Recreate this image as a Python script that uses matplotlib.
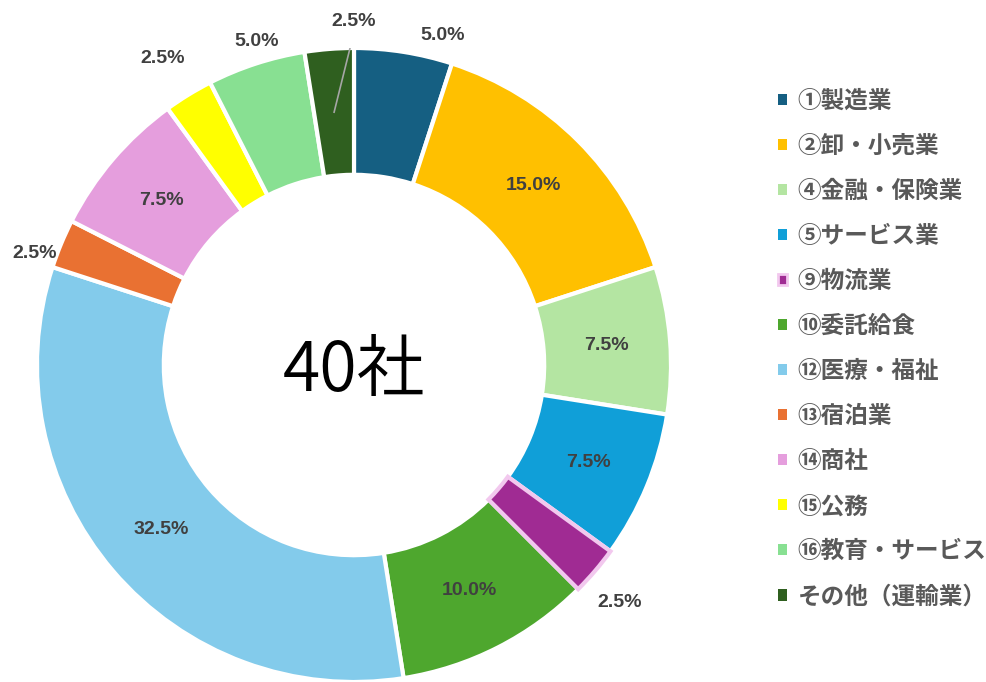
import numpy as np
import matplotlib.pyplot as plt
from matplotlib.patches import Patch

plt.rcParams['font.family'] = ['Noto Sans CJK JP', 'DejaVu Sans']

# data
categories = ['①製造業', '②卸・小売業', '④金融・保険業', '⑤サービス業', '⑨物流業',
              '⑩委託給食', '⑫医療・福祉', '⑬宿泊業', '⑭商社', '⑮公務',
              '⑯教育・サービス', 'その他（運輸業）']
counts = [2, 6, 3, 3, 1, 4, 13, 1, 3, 1, 2, 1]
colors = ['#155F82', '#FFC000', '#B4E5A2', '#109FD8', '#A02B93', '#4EA72E',
          '#83CBEB', '#E97132', '#E59EDD', '#FFFF00', '#88E092', '#2F5F1F']
total = sum(counts)

fig = plt.figure(figsize=(9.87, 6.82), dpi=100)
W, H = 987, 682
cx, cy, R = 354, 365, 317
ax = fig.add_axes([(cx - R) / W, (H - cy - R) / H, 2 * R / W, 2 * R / H])

wedges, _ = ax.pie(counts, colors=colors, startangle=90, counterclock=False,
                   radius=1.0, wedgeprops=dict(width=0.4, edgecolor='white', linewidth=3))
wedges[4].set_edgecolor('#F2C8EE')
wedges[4].set_zorder(3)
ax.set_xlim(-1, 1)
ax.set_ylim(-1, 1)
ax.set_aspect('equal')
ax.axis('off')

# label placement: inside for big slices, outside (angle, radius) for small ones
outside = {0: (75, 1.075), 4: (-41.8, 1.125), 7: (160.7, 1.066), 9: (122, 1.14),
           10: (106.7, 1.067), 11: (90, 1.085)}
lab_style = dict(fontsize=14, fontweight='bold', color='#404040',
                 family=['Liberation Sans'], ha='center', va='center')
for i, w in enumerate(wedges):
    pct = counts[i] / total * 100
    mid = np.deg2rad((w.theta1 + w.theta2) / 2)
    if i in outside:
        a, r = outside[i]
        a = np.deg2rad(a)
        ax.text(r * np.cos(a), r * np.sin(a), f'{pct:.1f}%', **lab_style)
    else:
        ax.text(0.8 * np.cos(mid), 0.8 * np.sin(mid), f'{pct:.1f}%', **lab_style)

# leader line for last slice
w = wedges[11]
mid = np.deg2rad((w.theta1 + w.theta2) / 2)
ax.plot([0.8 * np.cos(mid), -0.005], [0.8 * np.sin(mid), 1.03], color='#A6A6A6', lw=1.2, zorder=4)

ax.text(0, -0.02, f'{total}社', fontsize=49, fontweight=350, ha='center', va='center',
        color='black')

handles = []
for i, c in enumerate(colors):
    ec = '#F2C8EE' if i == 4 else c
    handles.append(Patch(facecolor=c, edgecolor=ec, linewidth=2 if i == 4 else 0))
fig.legend(handles, categories, loc='upper left', bbox_to_anchor=(778 / W, 1 - 89 / H),
           frameon=False, handlelength=0.38, handleheight=0.38, handletextpad=0.45,
           labelspacing=0.89, borderpad=0, borderaxespad=0,
           prop=dict(family=['Noto Sans CJK JP', 'DejaVu Sans'], size=17, weight='bold'),
           labelcolor='#595959')

fig.savefig('out.png', dpi=100)
